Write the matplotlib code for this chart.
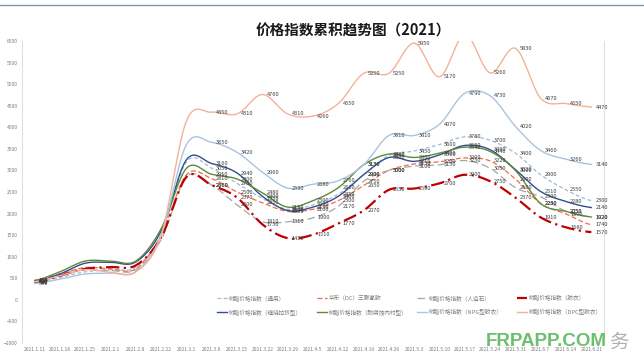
import numpy as np
import matplotlib.pyplot as plt
from matplotlib.lines import Line2D

plt.rcParams['font.family'] = ['Noto Sans CJK SC', 'DejaVu Sans']

# weekly dates (category axis)
dates = ['2021.1.11', '2021.1.18', '2021.1.25', '2021.2.1', '2021.2.8', '2021.2.22',
         '2021.3.1', '2021.3.8', '2021.3.15', '2021.3.22', '2021.3.29', '2021.4.5',
         '2021.4.12', '2021.4.19', '2021.4.26', '2021.5.3', '2021.5.10', '2021.5.17',
         '2021.5.24', '2021.5.31', '2021.6.7', '2021.6.14', '2021.6.21']

tongyong = [400, 520, 650, 700, 760, 1500, 3200, 3050, 2700, 2350, 2100, 2200, 2450,
            2900, 3350, 3450, 3600, 3780, 3700, 3400, 2900, 2550, 2300]
huadong = [450, 600, 750, 720, 720, 1500, 2900, 2810, 2500, 2250, 2050, 2100, 2300,
           2650, 3000, 3150, 3200, 3290, 3220, 2800, 2230, 1990, 1740]
renzaoshi = [420, 560, 700, 680, 700, 1400, 2850, 2660, 2200, 1810, 1810, 1900, 2170,
             2750, 3000, 3100, 3130, 3230, 3050, 2600, 2390, 2050, 1920]
jiaoyi = [400, 560, 720, 760, 800, 1450, 2850, 2660, 2370, 1750, 1430, 1510, 1770,
          2070, 2550, 2580, 2700, 2900, 2750, 2370, 1910, 1680, 1570]
chanrao = [420, 600, 850, 870, 880, 1600, 3250, 3160, 2940, 2400, 2070, 2150, 2400,
           2900, 3300, 3210, 3360, 3580, 3480, 3020, 2510, 2280, 2140]
neichen = [450, 650, 900, 900, 900, 1650, 3050, 2910, 2800, 2480, 2150, 2300, 2600,
           3130, 3380, 3300, 3400, 3540, 3440, 3000, 2230, 2050, 1920]
npg = [380, 480, 600, 620, 660, 1500, 3600, 3650, 3420, 2960, 2590, 2680, 2760,
       3130, 3810, 3810, 4070, 4790, 4730, 4020, 3460, 3260, 3140]
dpc = [420, 560, 700, 640, 650, 1500, 4150, 4350, 4310, 4760, 4310, 4260, 4550,
       5250, 5250, 5950, 5170, 6150, 5260, 5830, 4670, 4550, 4470]

names = ['树脂价格指数（通用）', '华东（DC）三聚氰胺', '树脂价格指数（人造石）', '树脂价格指数（胶衣）',
         '树脂价格指数（缠绕拉挤型）', '树脂价格指数（耐腐蚀内衬型）', '树脂价格指数（NPG型胶衣）',
         '树脂价格指数（DPC型胶衣）']
series = [tongyong, huadong, renzaoshi, jiaoyi, chanrao, neichen, npg, dpc]

# line styles: colour, width, dash pattern
styles = [
    ('#9dbad8', 0.9, (0, (3, 2))),
    ('#ee6c4d', 0.9, (0, (4, 2))),
    ('#a5a5a5', 0.9, (0, (6, 3))),
    ('#c00000', 1.6, (0, (6, 2, 1, 2))),
    ('#2f4f8f', 1.0, '-'),
    ('#5b8a3a', 1.0, '-'),
    ('#a9c4e0', 1.0, '-'),
    ('#f4b19a', 1.0, '-'),
]


def smooth(y, n=16):
    '''Catmull-Rom curve through the points, like Excel smoothed lines.'''
    y = np.asarray(y, float)
    p = np.concatenate([[y[0]], y, [y[-1]]])
    t = np.linspace(0, 1, n, endpoint=False)
    xs, ys = [], []
    for i in range(len(y) - 1):
        p0, p1, p2, p3 = p[i:i + 4]
        ys.append(0.5 * (2 * p1 + (-p0 + p2) * t
                         + (2 * p0 - 5 * p1 + 4 * p2 - p3) * t ** 2
                         + (-p0 + 3 * p1 - 3 * p2 + p3) * t ** 3))
        xs.append(i + t)
    xs.append([len(y) - 1])
    ys.append([y[-1]])
    return np.concatenate(xs), np.concatenate(ys)


W, H = 644, 361
fig = plt.figure(figsize=(W / 100, H / 100), dpi=100)
ax = fig.add_axes([22 / W, 1 - 343 / H, (604 - 22) / W, (343 - 41) / H])

for vals, (c, lw, ls) in zip(series, styles):
    sx, sy = smooth(vals)
    ax.plot(sx, sy, color=c, lw=lw, linestyle=ls)
    for i, v in enumerate(vals):
        if i == 0 or i >= 7:
            ax.annotate(str(v), (i, v), xytext=(3, 0), textcoords='offset points',
                        ha='left', va='center', fontsize=4.1, color='#404040',
                        annotation_clip=True)

ax.set_xlim(-0.5, len(dates) - 0.5)
ax.set_ylim(-1000, 6000)
ax.set_yticks(range(-1000, 6001, 500))
ax.set_xticks(range(len(dates)))
ax.set_xticklabels(dates)
ax.tick_params(axis='both', length=0, labelcolor='#7f7f7f', pad=3)
ax.tick_params(axis='x', labelsize=3.6)
ax.tick_params(axis='y', labelsize=3.6)
for s in ['top', 'bottom']:
    ax.spines[s].set_visible(False)
for s in ['left', 'right']:
    ax.spines[s].set_color('#e0e0e0')
    ax.spines[s].set_linewidth(0.8)

# legend drawn by hand, 2 rows x 4 columns like Excel
for k, (name, (c, lw, ls)) in enumerate(zip(names, styles)):
    col, row = k % 4, k // 4
    x0 = (217 + 100 * col) / W
    y0 = 1 - (298 + 14 * row) / H
    fig.add_artist(Line2D([x0, x0 + 10 / W], [y0, y0], color=c, lw=lw, linestyle=ls))
    fig.text(x0 + 12 / W, y0, name, fontsize=4.1, color='#7f7f7f', va='center', ha='left')

fig.text(353 / W, 1 - 31 / H, '价格指数累积趋势图（2021）', fontsize=10.5, fontweight='bold',
         ha='center', va='center', color='#1a1a1a')

# thin frame line at the top of the picture
fig.add_artist(Line2D([0, 1], [1 - 5 / H, 1 - 5 / H], color='#7895ae', lw=1))

# watermark
fig.text(486 / W, 1 - 342 / H, 'FRPAPP.COM', fontsize=13.5, fontweight='bold',
         color='#5cb85c', alpha=0.9, ha='left', va='center', family='Liberation Sans')
fig.text(609 / W, 1 - 342 / H, '务', fontsize=14, color='#b0b0b0', ha='left', va='center')

fig.savefig('out.png', dpi=100)
